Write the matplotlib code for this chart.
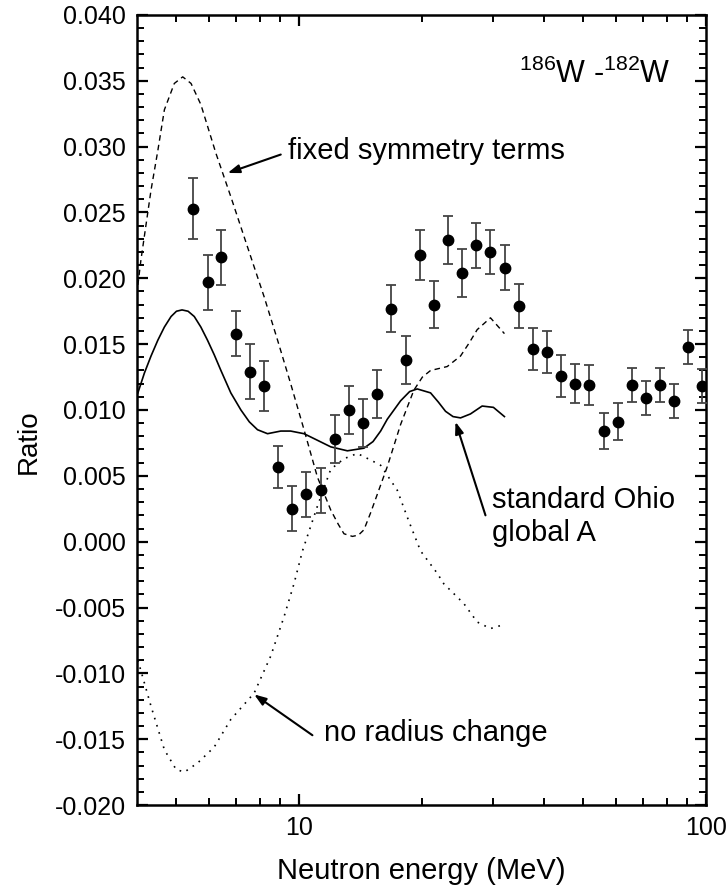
import matplotlib
matplotlib.use("Agg")
import matplotlib.pyplot as plt
from matplotlib.ticker import MultipleLocator, FixedLocator, NullFormatter

plt.rcParams['font.family'] = ['Liberation Sans', 'DejaVu Sans']
plt.rcParams['mathtext.default'] = 'regular'

# measured ratio 186W - 182W
energy = [5.50, 5.96, 6.45, 7.00, 7.57, 8.21, 8.87, 9.60, 10.43, 11.31,
          12.26, 13.27, 14.36, 15.58, 16.86, 18.28, 19.78, 21.41, 23.26, 25.17,
          27.25, 29.54, 32.03, 34.65, 37.51, 40.68, 44.02, 47.73, 51.67, 56.01,
          60.62, 65.75, 71.16, 77.16, 83.50, 90.36, 97.97]
ratio = [0.0253, 0.0197, 0.0216, 0.0158, 0.0129, 0.0118, 0.0057, 0.0025, 0.0036, 0.0039,
         0.0078, 0.0100, 0.0090, 0.0112, 0.0177, 0.0138, 0.0218, 0.0180, 0.0229, 0.0204,
         0.0225, 0.0220, 0.0208, 0.0179, 0.0146, 0.0144, 0.0126, 0.0120, 0.0119, 0.0084,
         0.0091, 0.0119, 0.0109, 0.0119, 0.0107, 0.0148, 0.0118]
ratio_err = [0.0023, 0.0021, 0.0021, 0.0017, 0.0021, 0.0019, 0.0016, 0.0017, 0.0017, 0.0017,
             0.0018, 0.0018, 0.0018, 0.0018, 0.0018, 0.0018, 0.0019, 0.0018, 0.0018, 0.0018,
             0.0017, 0.0017, 0.0017, 0.0017, 0.0016, 0.0016, 0.0016, 0.0015, 0.0015, 0.0014,
             0.0014, 0.0013, 0.0013, 0.0013, 0.0013, 0.0013, 0.0013]

# standard Ohio global A (solid)
std_e = [4.02, 4.17, 4.33, 4.50, 4.67, 4.85, 5.00, 5.16, 5.34, 5.53, 5.74, 5.96, 6.19, 6.43, 6.80, 7.20,
         7.55, 7.91, 8.37, 9.02, 9.54, 10.29, 11.10, 11.97, 13.15, 14.44, 15.20, 15.87,
         16.48, 17.77, 18.70, 19.52, 21.05, 22.00, 22.91, 23.90, 24.94, 26.38, 28.18, 30.04, 31.97]
std_r = [0.0113, 0.0128, 0.0141, 0.0153, 0.0163, 0.0171, 0.0175, 0.0176, 0.0175, 0.0171, 0.0163, 0.0153, 0.0142, 0.0130, 0.0113, 0.0100,
         0.0091, 0.0085, 0.0082, 0.0084, 0.0084, 0.0082, 0.0077, 0.0072, 0.0069, 0.0071, 0.0076, 0.0084,
         0.0093, 0.0107, 0.0114, 0.0116, 0.0113, 0.0106, 0.0099, 0.0095, 0.0094, 0.0097, 0.0103, 0.0102, 0.0095]

# fixed symmetry terms (dashed)
fix_e = [4.02, 4.09, 4.33, 4.50, 4.67, 4.94, 5.18, 5.43, 5.74, 6.25,
         6.80, 7.47, 8.21, 8.86, 9.54, 10.29, 11.10, 11.97, 12.50, 12.90, 13.53,
         14.00, 14.44, 15.00, 16.48, 17.77, 19.15, 20.10, 21.05, 23.13, 24.94, 26.20, 27.40, 29.54, 31.97]
fix_r = [0.0195, 0.0214, 0.0267, 0.0297, 0.0328, 0.0348, 0.0353, 0.0348, 0.0332, 0.0295,
         0.0262, 0.0224, 0.0186, 0.0153, 0.0120, 0.0085, 0.0049, 0.0024, 0.0013, 0.0006, 0.0004,
         0.0005, 0.0009, 0.0022, 0.0057, 0.0089, 0.0115, 0.0125, 0.0130, 0.0133, 0.0141, 0.0151, 0.0161, 0.0170, 0.0158]

# no radius change (dotted)
norad_e = [4.02, 4.33, 4.67, 4.99, 5.23, 5.64, 6.19, 6.80, 7.76, 8.52,
           9.19, 9.72, 10.20, 11.10, 11.97, 12.90, 13.91, 15.00, 15.87, 17.44,
           18.59, 19.89, 21.86, 22.69, 24.47, 25.41, 27.40, 29.54, 31.84]
norad_r = [-0.0090, -0.0125, -0.0158, -0.0173, -0.0175, -0.0168, -0.0156, -0.0135, -0.0115, -0.0087,
           -0.0057, -0.0032, -0.0007, 0.0027, 0.0055, 0.0063, 0.0067, 0.0062, 0.0058, 0.0039,
           0.0016, -0.0007, -0.0024, -0.0032, -0.0042, -0.0047, -0.0061, -0.0066, -0.0063]


def main():
    fig = plt.figure(figsize=(7.28, 8.91), dpi=100)
    ax = fig.add_axes([0.1882, 0.0965, 0.7816, 0.8867])

    ax.plot(std_e, std_r, color='black', linewidth=1.2, linestyle='-')
    ax.plot(fix_e, fix_r, color='black', linewidth=1.0, linestyle=(0, (4, 3)))
    ax.plot(norad_e, norad_r, color='black', linewidth=1.2, linestyle=(0, (1, 3.5)))

    ax.errorbar(energy, ratio, yerr=ratio_err, fmt='o', color='black', markersize=7.5,
                ecolor='#444444', elinewidth=1.3, capsize=3.5, capthick=1.3, zorder=5)

    ax.set_xscale('log')
    ax.set_xlim(4, 100)
    ax.set_ylim(-0.020, 0.040)

    ax.xaxis.set_major_locator(FixedLocator([10, 100]))
    ax.xaxis.set_minor_locator(FixedLocator([5, 6, 7, 8, 9, 20, 30, 40, 50, 60, 70, 80, 90]))
    ax.xaxis.set_minor_formatter(NullFormatter())
    ax.set_xticklabels(['10', '100'])
    ax.yaxis.set_major_locator(MultipleLocator(0.005))
    ax.yaxis.set_minor_locator(MultipleLocator(0.001))
    ax.yaxis.set_major_formatter(plt.FuncFormatter(lambda v, p: f'{v:.3f}'))

    ax.tick_params(which='both', direction='in', top=True, right=True, labelsize=18)
    ax.tick_params(which='major', length=8, width=1.6, pad=8)
    ax.tick_params(which='minor', length=5, width=1.4)
    for sp in ax.spines.values():
        sp.set_linewidth(1.8)

    ax.set_xlabel('Neutron energy (MeV)', fontsize=21, labelpad=12)
    ax.set_ylabel('Ratio', fontsize=20)
    ax.yaxis.set_label_coords(-0.167, 0.46)

    ax.text(0.937, 0.925, r'$^{186}$W -$^{182}$W', transform=ax.transAxes,
            ha='right', va='center', fontsize=22)

    arrow = dict(arrowstyle='-|>,head_length=0.7,head_width=0.25', color='black', lw=1.5,
                 shrinkA=0, shrinkB=0)
    ax.annotate('', xy=(6.68, 0.0280), xytext=(9.02, 0.0294), arrowprops=arrow)
    ax.text(9.39, 0.0297, 'fixed symmetry terms', ha='left', va='center', fontsize=21)

    ax.annotate('', xy=(24.24, 0.0091), xytext=(28.72, 0.0020), arrowprops=arrow)
    ax.text(29.83, 0.0019, 'standard Ohio\nglobal A', ha='left', va='center', fontsize=21,
            linespacing=1.2)

    ax.annotate('', xy=(7.76, -0.0116), xytext=(10.79, -0.0147), arrowprops=arrow)
    ax.text(11.52, -0.0145, 'no radius change', ha='left', va='center', fontsize=21)

    fig.savefig('out.png', dpi=100)
    plt.close(fig)


if __name__ == "__main__":
    main()
